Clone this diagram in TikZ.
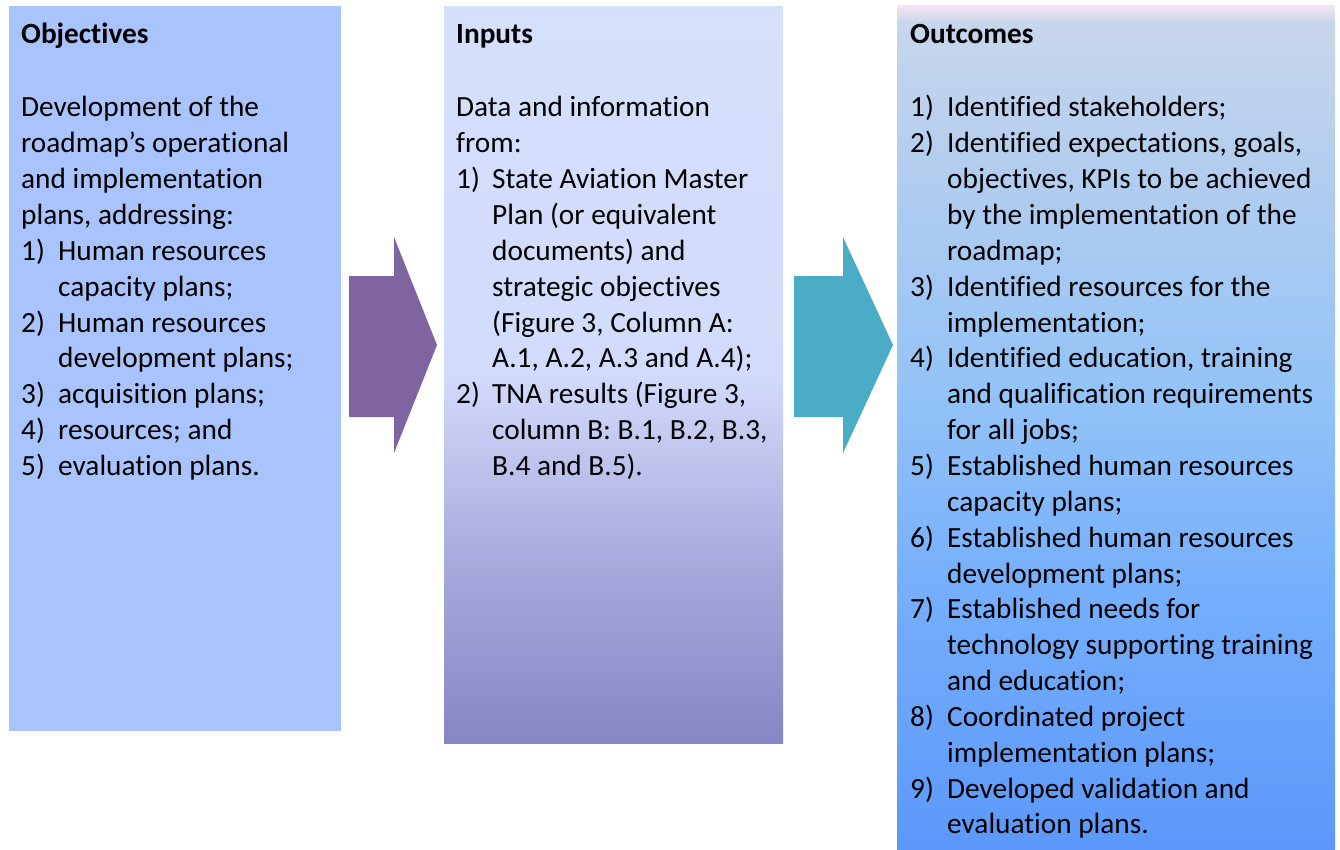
\documentclass[tikz,border=0pt]{standalone}
\usepackage{fontspec}
\setmainfont{Carlito}[Ligatures=NoCommon]
\usepackage{array}
\definecolor{objfill}{HTML}{A9C4FC}
\definecolor{arrpurple}{HTML}{8064A2}
\definecolor{arrteal}{HTML}{4BACC6}
\definecolor{inA}{HTML}{8587C5}
\definecolor{inB}{HTML}{A6A9DC}
\definecolor{inC}{HTML}{C9CEF4}
\definecolor{inD}{HTML}{D2DBFB}
\definecolor{inE}{HTML}{D5E0FC}
\definecolor{ouA}{HTML}{5C98FA}
\definecolor{ouB}{HTML}{74AEFC}
\definecolor{ouC}{HTML}{93C3F7}
\definecolor{ouD}{HTML}{B2CDEF}
\definecolor{ouE}{HTML}{C8D6EC}
\definecolor{ouPink}{HTML}{F6E6F0}
\pgfdeclareverticalshading{inshade}{100bp}{color(0bp)=(inA); color(25bp)=(inA); color(37bp)=(inB); color(47bp)=(inC); color(50bp)=(inD); color(75bp)=(inE); color(100bp)=(inE)}
\pgfdeclareverticalshading{outshade}{100bp}{color(0bp)=(ouA); color(25bp)=(ouA); color(40bp)=(ouB); color(52bp)=(ouC); color(65bp)=(ouD); color(74bp)=(ouE); color(75bp)=(ouPink); color(100bp)=(ouPink)}
\newcommand\wholeline[1]{\multicolumn{2}{@{}l@{}}{#1}}
\begin{document}
\begin{tikzpicture}[x=1pt,y=-1pt,
  panel/.style={draw=none, inner sep=0, anchor=north west},
  headtxt/.style={inner sep=0, anchor=base west, font=\fontsize{29.3}{35.85}\selectfont\bfseries},
  bodytxt/.style={inner sep=0, anchor=base west, font=\fontsize{29.3}{35.85}\selectfont},
  blockarrow/.style={draw=none}]
\useasboundingbox (0,0) rectangle (1340,850);
% panels
\node[panel, fill=objfill, minimum width=332, minimum height=725] (obj) at (9,6) {};
\node[panel, shading=inshade, minimum width=339, minimum height=737] (inp) at (444,6) {};
\node[panel, shading=outshade, minimum width=438, minimum height=845] (out) at (897,5) {};
% block arrows
\fill[arrpurple] (349,276) -- (394,276) -- (394,237) -- (437,345) -- (394,453) -- (394,417) -- (349,417) -- cycle;
\fill[arrteal] (794,276) -- (843,276) -- (843,237) -- (893,345) -- (843,453) -- (843,417) -- (794,417) -- cycle;
% headings
\node[headtxt] (objhead) at (21,44) {Objectives};
\node[headtxt] (inphead) at (456,44) {Inputs};
\node[headtxt] (outhead) at (910,44) {Outcomes};
% bodies
\node[bodytxt] (objbody) at (21,117) {\begin{tabular}[t]{@{}p{37pt}@{}l@{}}
\wholeline{Development of the}\\
\wholeline{roadmap’s operational}\\
\wholeline{and implementation}\\
\wholeline{plans, addressing:}\\
1) & Human resources\\
   & capacity plans;\\
2) & Human resources\\
   & development plans;\\
3) & acquisition plans;\\
4) & resources; and\\
5) & evaluation plans.
\end{tabular}};
\node[bodytxt] (inpbody) at (456,117) {\begin{tabular}[t]{@{}p{36pt}@{}l@{}}
\wholeline{Data and information}\\
\wholeline{from:}\\
1) & State Aviation Master\\
   & Plan (or equivalent\\
   & documents) and\\
   & strategic objectives\\
   & (Figure 3, Column A:\\
   & A.1, A.2, A.3 and A.4);\\
2) & TNA results (Figure 3,\\
   & column B: B.1, B.2, B.3,\\
   & B.4 and B.5).
\end{tabular}};
\node[bodytxt] (outbody) at (910,117) {\begin{tabular}[t]{@{}p{37pt}@{}l@{}}
1) & Identified stakeholders;\\
2) & Identified expectations, goals,\\
   & objectives, KPIs to be achieved\\
   & by the implementation of the\\
   & roadmap;\\
3) & Identified resources for the\\
   & implementation;\\
4) & Identified education, training\\
   & and qualification requirements\\
   & for all jobs;\\
5) & Established human resources\\
   & capacity plans;\\
6) & Established human resources\\
   & development plans;\\
7) & Established needs for\\
   & technology supporting training\\
   & and education;\\
8) & Coordinated project\\
   & implementation plans;\\
9) & Developed validation and\\
   & evaluation plans.
\end{tabular}};
\end{tikzpicture}
\end{document}
